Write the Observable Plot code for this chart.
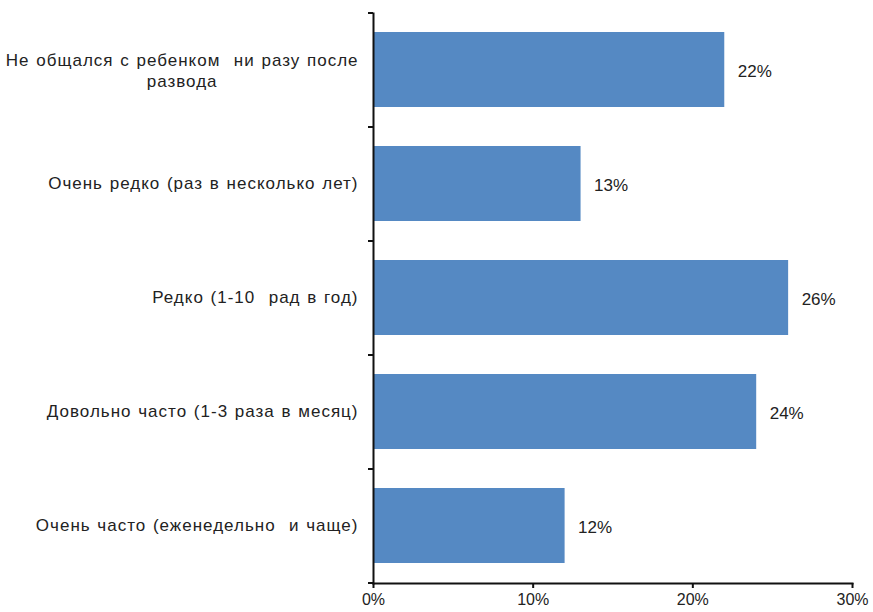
<!DOCTYPE html>
<html>
<head>
<meta charset="utf-8">
<script src="https://cdn.jsdelivr.net/npm/d3@7"></script>
<script src="https://cdn.jsdelivr.net/npm/@observablehq/plot@0.6"></script>
<style>
  html, body { margin: 0; padding: 0; background: #fff; }
</style>
</head>
<body>
<div id="chart"></div>
<script>
const categories = [
  "Не общался с ребенком  ни разу после\nразвода",
  "Очень редко (раз в несколько лет)",
  "Редко (1-10  рад в год)",
  "Довольно часто (1-3 раза в месяц)",
  "Очень часто (еженедельно  и чаще)"
];
const values = [22, 13, 26, 24, 12];
const xTicks = [0, 10, 20, 30];

const data = categories.map((c, i) => ({cat: c, value: values[i]}));

const FONT = "'Liberation Sans', Arial, sans-serif";
const labelSize = 17;
const letterSp = 1;
const wordSp = 1;

// measure first line of wrapped label to center the wrapped lines
const ctx = document.createElement("canvas").getContext("2d");
ctx.font = `${labelSize}px 'Liberation Sans'`;
const line0 = categories[0].split("\n")[0];
const w0 = ctx.measureText(line0).width + line0.length * letterSp + (line0.split(" ").length - 1) * wordSp;
const labelPad = 15;

const padInner = 0.34;

const boundaryTicks = (index, scales, values, dims) => {
  const g = d3.create("svg:g").attr("stroke", "#111").attr("stroke-width", 2);
  const n = categories.length;
  const step = (dims.height - dims.marginTop - dims.marginBottom) / n;
  for (let k = 0; k <= n; k++) {
    const y = dims.marginTop + k * step;
    g.append("line")
      .attr("x1", dims.marginLeft - 5).attr("x2", dims.marginLeft)
      .attr("y1", y).attr("y2", y);
  }
  return g.node();
};

const chart = Plot.plot({
  width: 873,
  height: 612,
  marginTop: 13,
  marginBottom: 29,
  marginLeft: 373,
  marginRight: 21,
  style: {fontFamily: FONT, fontSize: "16px", color: "#222", background: "#fff"},
  x: {domain: [0, 30], label: null},
  y: {domain: categories, paddingInner: padInner, paddingOuter: padInner / 2, label: null},
  marks: [
    Plot.barX(data, {x: "value", y: "cat", fill: "#5589C3"}),
    Plot.text(data, {x: "value", y: "cat", text: d => d.value + "%", dx: 13, dy: 2, textAnchor: "start", fontSize: 17, fill: "#222"}),
    Plot.frame({anchor: "left", stroke: "#111", strokeWidth: 2}),
    Plot.frame({anchor: "bottom", stroke: "#111", strokeWidth: 2}),
    boundaryTicks,
    Plot.axisX({ticks: xTicks, tickFormat: d => d + "%", tickSize: 5, tickPadding: 5, fontSize: 16, stroke: "#111", strokeWidth: 2, label: null}),
    Plot.axisY({ticks: categories.slice(1), tickSize: 0, tickPadding: labelPad, fontSize: labelSize, label: null}),
    Plot.axisY({ticks: [categories[0]], tickSize: 0, tickPadding: labelPad + w0 / 2, textAnchor: "middle", fontSize: labelSize, lineHeight: 1.25, label: null})
  ]
});
d3.select(chart).selectAll('g[aria-label="y-axis tick label"]')
  .style("letter-spacing", letterSp + "px")
  .style("word-spacing", wordSp + "px");
document.getElementById("chart").appendChild(chart);
</script>
</body>
</html>
